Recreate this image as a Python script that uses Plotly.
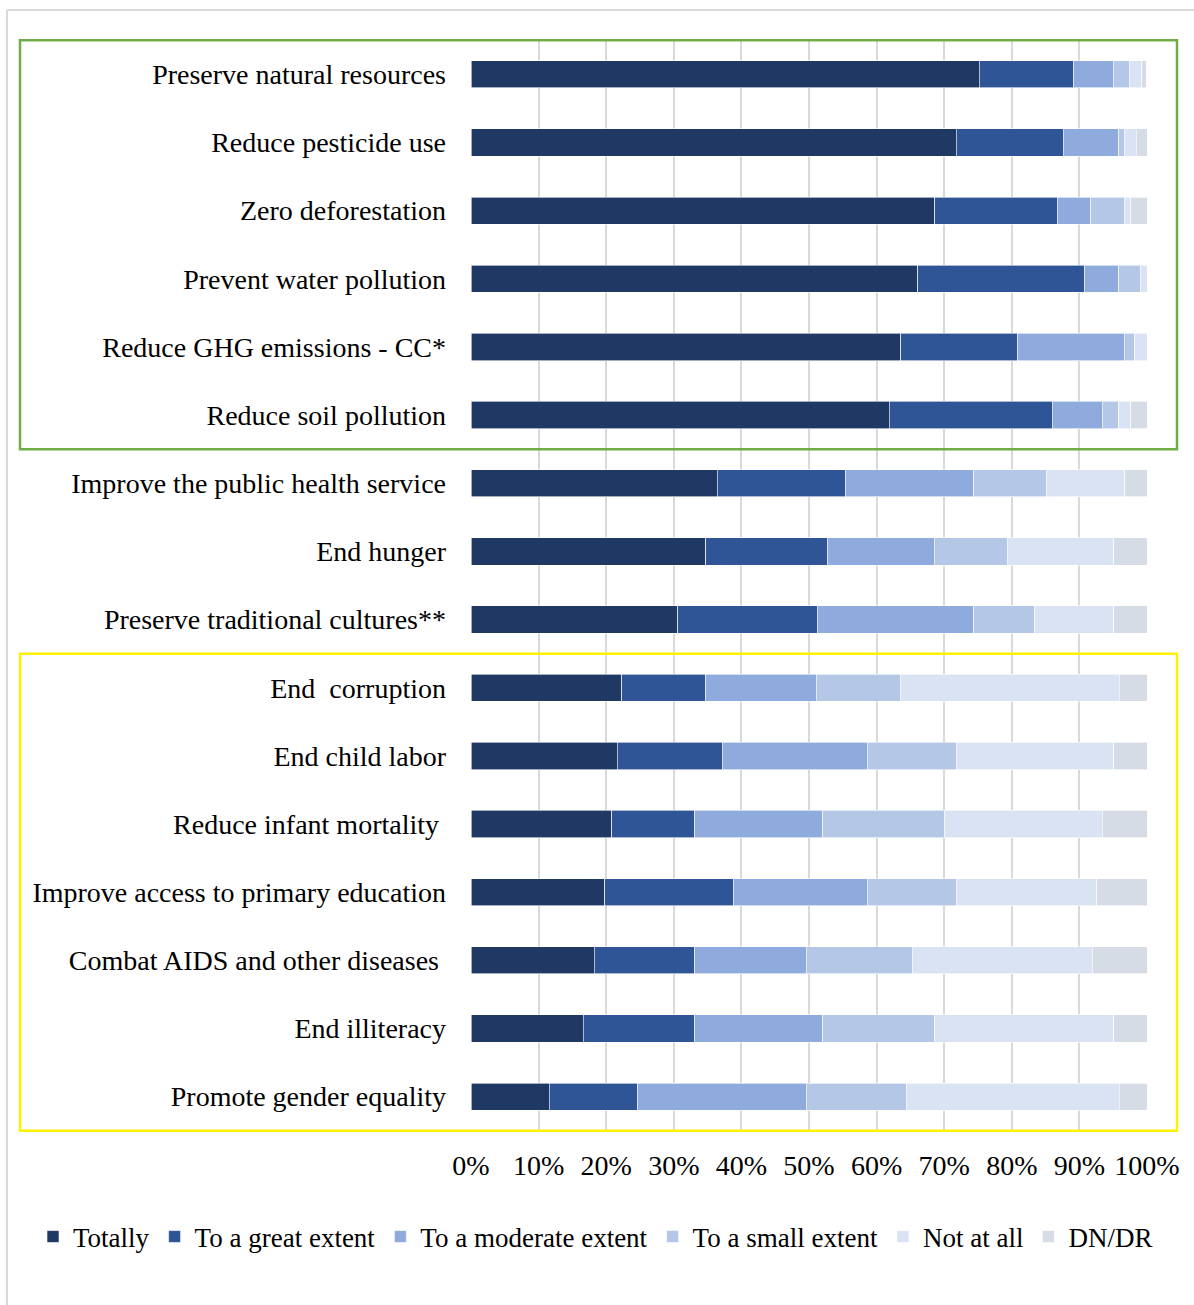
import plotly.graph_objects as go

categories = [
    "Preserve natural resources",
    "Reduce pesticide use",
    "Zero deforestation",
    "Prevent water pollution",
    "Reduce GHG emissions - CC*",
    "Reduce soil pollution",
    "Improve the public health service",
    "End hunger",
    "Preserve traditional cultures**",
    "End\u00a0 corruption",
    "End child labor",
    "Reduce infant mortality\u00a0",
    "Improve access to primary education",
    "Combat AIDS and other diseases\u00a0",
    "End illiteracy",
    "Promote gender equality",
]

series_names = ["Totally", "To a great extent", "To a moderate extent",
                "To a small extent", "Not at all", "DN/DR"]

totally = [75.2, 71.8, 68.6, 66.1, 63.6, 61.9, 36.4, 34.7, 30.6, 22.3, 21.6, 20.8, 19.8, 18.2, 16.6, 11.6]
great = [14.0, 15.8, 18.1, 24.7, 17.3, 24.1, 19.0, 18.1, 20.6, 12.4, 15.6, 12.3, 19.1, 14.9, 16.5, 13.1]
moderate = [5.8, 8.2, 5.0, 5.0, 15.7, 7.4, 19.0, 15.7, 23.2, 16.4, 21.4, 18.9, 19.7, 16.5, 18.9, 24.9]
small = [2.4, 0.8, 4.9, 3.3, 1.6, 2.4, 10.7, 10.8, 9.0, 12.4, 13.2, 18.1, 13.2, 15.7, 16.6, 14.8]
not_at_all = [1.8, 1.8, 1.0, 0.9, 1.8, 1.8, 11.6, 15.8, 11.7, 32.4, 23.3, 23.3, 20.8, 26.6, 26.5, 31.5]
dn_dr = [0.7, 1.6, 2.4, 0.0, 0.0, 2.4, 3.3, 4.9, 4.9, 4.1, 4.9, 6.6, 7.4, 8.1, 4.9, 4.1]

tick_values = [0, 10, 20, 30, 40, 50, 60, 70, 80, 90, 100]
tick_labels = [f"{v}%" for v in tick_values]

colors = ["#203864", "#2F5597", "#8FAADC", "#B4C7E7", "#DAE3F3", "#D6DCE5"]
all_series = [totally, great, moderate, small, not_at_all, dn_dr]

FONT = "Liberation Serif"

fig = go.Figure()
for name, vals, col in zip(series_names, all_series, colors):
    fig.add_trace(go.Bar(
        y=categories, x=vals, name=name, orientation="h",
        marker=dict(color=col, line=dict(color="white", width=0.6)),
    ))

fig.update_layout(
    barmode="stack",
    bargap=0.6,
    width=1194, height=1305,
    margin=dict(l=471, r=47, t=39, b=173),
    plot_bgcolor="white", paper_bgcolor="white",
    font=dict(family=FONT, size=28, color="#000000"),
    showlegend=True,
    legend=dict(
        orientation="h", xref="paper", yref="paper",
        x=(33 - 471) / 676, y=(1132 - 1237) / 1093,
        xanchor="left", yanchor="middle",
        font=dict(family=FONT, size=27, color="#000000"),
        traceorder="normal", itemwidth=30, tracegroupgap=0,
    ),
)

fig.update_xaxes(
    range=[0, 100], tickvals=tick_values, ticktext=tick_labels,
    showgrid=True, gridcolor="#D9D9D9", gridwidth=2,
    zeroline=False, showline=False, ticks="",
    ticklabelstandoff=14,
    tickfont=dict(family=FONT, size=28, color="#000000"),
)
fig.update_yaxes(
    autorange="reversed", showgrid=False, ticks="", showline=False,
    ticklabelstandoff=24,
    tickfont=dict(family=FONT, size=28, color="#000000"),
)

# outer chart border (light grey)
fig.add_shape(type="line", xref="paper", yref="paper",
              x0=(7 - 471) / 676, x1=(1194 - 471) / 676,
              y0=(1132 - 10) / 1093, y1=(1132 - 10) / 1093,
              line=dict(color="#D9D9D9", width=2))
fig.add_shape(type="line", xref="paper", yref="paper",
              x0=(7 - 471) / 676, x1=(7 - 471) / 676,
              y0=(1132 - 10) / 1093, y1=(1132 - 1305) / 1093,
              line=dict(color="#D9D9D9", width=2))

# highlight boxes
bx0 = (20 - 471) / 676
bx1 = (1177 - 471) / 676
fig.add_shape(type="rect", xref="paper", yref="y",
              x0=bx0, x1=bx1, y0=-0.5, y1=5.5,
              line=dict(color="#70AD47", width=2.5))
fig.add_shape(type="rect", xref="paper", yref="y",
              x0=bx0, x1=bx1, y0=8.5, y1=15.5,
              line=dict(color="#FFF200", width=2.5))

fig.write_html("out.html")
